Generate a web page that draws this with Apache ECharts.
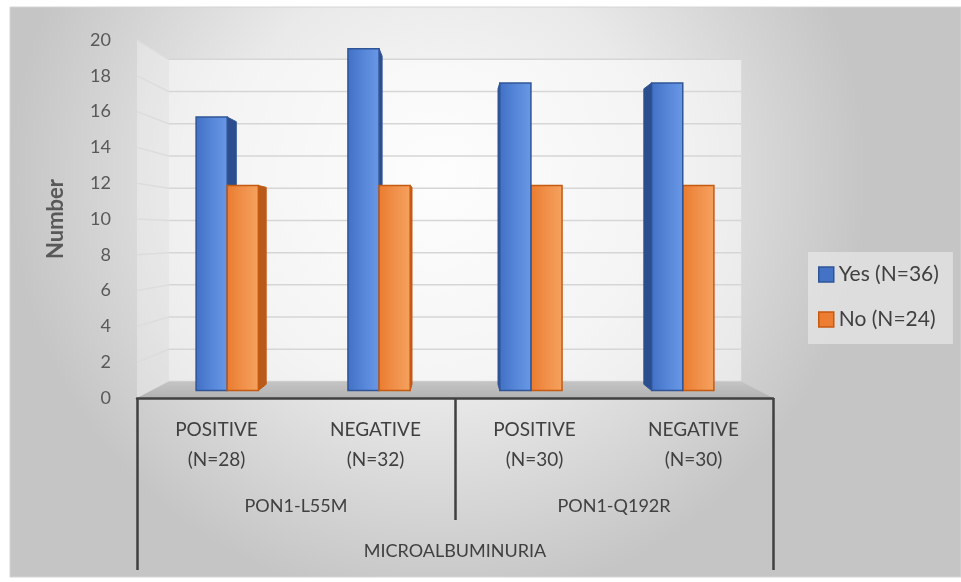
<!DOCTYPE html>
<html>
<head>
<meta charset="utf-8">
<script src="https://cdn.jsdelivr.net/npm/echarts@6/dist/echarts.min.js"></script>
<style>
  html, body { margin: 0; padding: 0; background: #fff; }
  #chart { width: 961px; height: 582px; }
</style>
</head>
<body>
<div id="chart"></div>
<script>
// data
const categories = ['POSITIVE\n(N=28)', 'NEGATIVE\n(N=32)', 'POSITIVE\n(N=30)', 'NEGATIVE\n(N=30)'];
const genes = ['PON1-L55M', 'PON1-Q192R'];
const outcome = ['MICROALBUMINURIA'];
const yesValues = [16, 20, 18, 18];
const noValues = [12, 12, 12, 12];
const yTicks = [0, 2, 4, 6, 8, 10, 12, 14, 16, 18, 20];
const seriesNames = ['Yes (N=36)', 'No (N=24)'];

const FONT = 'Lato';
// depth factors for the fake 3d look
const S_BAR_FRONT = 0.955;
const S_BAR_BACK = 0.917;
const S_WALL = 0.9;

function vanish(cs) {
  return [cs.x + cs.width / 2, cs.y + cs.height * 0.54];
}
function proj(vp, p, s) {
  return [vp[0] + (p[0] - vp[0]) * s, vp[1] + (p[1] - vp[1]) * s];
}

const looks = [
  {
    front: ['#4170c4', '#5686d8', '#6a98e6'],
    side: '#2d4e8e',
    edge: '#2f5597'
  },
  {
    front: ['#ea7b2e', '#f0904a', '#f5a25f'],
    side: '#b85a1a',
    edge: '#c55a11'
  }
];

function makeBar(k) {
  const look = looks[k];
  return function (params, api) {
    const cs = params.coordSys;
    const vp = vanish(cs);
    const cat = api.value(0);
    const base = api.coord([cat, 0]);
    const top = api.coord([cat, api.value(1)]);
    const w = api.size([1, 0])[0] * 0.205;
    const xa = k === 0 ? base[0] - w : base[0];
    const xb = xa + w;
    const pts = (s) => [
      proj(vp, [xa, top[1]], s), proj(vp, [xb, top[1]], s),
      proj(vp, [xb, base[1]], s), proj(vp, [xa, base[1]], s)
    ];
    const f = pts(S_BAR_FRONT);
    const b = pts(S_BAR_BACK);
    const leftHalf = base[0] < vp[0];
    const side = leftHalf ? [f[1], b[1], b[2], f[2]] : [f[0], b[0], b[3], f[3]];
    let z2 = leftHalf ? (k === 0 ? 1 : 3) : (k === 0 ? 3 : 1);
    return {
      type: 'group',
      children: [
        {
          type: 'polygon', z2: z2,
          shape: { points: side },
          style: { fill: look.side, stroke: look.edge, lineWidth: 1 }
        },
        {
          type: 'polygon', z2: z2 + 1,
          shape: { points: f },
          style: {
            fill: {
              type: 'linear', x: 0, y: 0, x2: 1, y2: 0,
              colorStops: [
                { offset: 0, color: look.front[0] },
                { offset: 0.5, color: look.front[1] },
                { offset: 1, color: look.front[2] }
              ]
            },
            stroke: look.edge, lineWidth: 1.5
          }
        }
      ]
    };
  };
}

function renderWall(params, api) {
  const cs = params.coordSys;
  const vp = vanish(cs);
  const x0 = cs.x, x1 = cs.x + cs.width;
  const yb = cs.y + cs.height, yt = cs.y;
  const y = api.coord([0, api.value(1)])[1];
  const children = [];
  if (params.dataIndex === 0) {
    children.push({
      type: 'polygon', z2: 0,
      shape: { points: [proj(vp, [x0, yt], S_WALL), proj(vp, [x1, yt], S_WALL), proj(vp, [x1, yb], S_WALL), proj(vp, [x0, yb], S_WALL)] },
      style: { fill: 'rgba(255,255,255,0.5)' }
    });
    children.push({
      type: 'polygon', z2: 0,
      shape: { points: [[x0, yt], proj(vp, [x0, yt], S_WALL), proj(vp, [x0, yb], S_WALL), [x0, yb]] },
      style: { fill: 'rgba(255,255,255,0.3)' }
    });
    children.push({
      type: 'polygon', z2: 2,
      shape: { points: [[x0, yb], [x1, yb], proj(vp, [x1, yb], S_WALL), proj(vp, [x0, yb], S_WALL)] },
      style: {
        fill: {
          type: 'linear', x: 0, y: 0, x2: 0, y2: 1,
          colorStops: [{ offset: 0, color: '#c4c4c4' }, { offset: 1, color: '#b2b2b2' }]
        }
      }
    });
  }
  children.push({
    type: 'line', z2: 1,
    shape: { x1: proj(vp, [x0, y], S_WALL)[0], y1: proj(vp, [x0, y], S_WALL)[1], x2: proj(vp, [x1, y], S_WALL)[0], y2: proj(vp, [x1, y], S_WALL)[1] },
    style: { stroke: '#d6d6d6', lineWidth: 1.5 }
  });
  children.push({
    type: 'line', z2: 1,
    shape: { x1: x0, y1: y, x2: proj(vp, [x0, y], S_WALL)[0], y2: proj(vp, [x0, y], S_WALL)[1] },
    style: { stroke: '#dcdcdc', lineWidth: 1.5 }
  });
  return { type: 'group', children: children };
}

const chart = echarts.init(document.getElementById('chart'));
chart.setOption({
  animation: false,
  textStyle: { fontFamily: FONT },
  graphic: [{
    type: 'rect', z: -10,
    shape: { x: 10, y: 7, width: 951, height: 570 },
    style: {
      fill: {
        type: 'radial', x: 0.45, y: 0.3, r: 0.75,
        colorStops: [{ offset: 0, color: '#fbfbfb' }, { offset: 0.5, color: '#e9e9e9' }, { offset: 1, color: '#c5c5c5' }]
      },
      stroke: '#d4d4d4', lineWidth: 1
    }
  }],
  grid: { left: 137, right: 188, top: 40, bottom: 184 },
  legend: {
    orient: 'vertical', left: 808, top: 252,
    padding: [12, 14, 14, 10], itemGap: 24,
    itemWidth: 15, itemHeight: 15,
    backgroundColor: 'rgba(236,236,236,0.6)',
    textStyle: { fontSize: 21, color: '#404040', fontFamily: FONT },
    data: [
      { name: seriesNames[0], icon: 'rect', itemStyle: { borderColor: '#2f5597', borderWidth: 1.5 } },
      { name: seriesNames[1], icon: 'rect', itemStyle: { borderColor: '#c55a11', borderWidth: 1.5 } }
    ]
  },
  xAxis: [
    {
      type: 'category', data: categories, position: 'bottom', z: 5,
      axisLine: { lineStyle: { color: '#404040', width: 2.5 } },
      axisTick: { show: false },
      axisLabel: { interval: 0, margin: 17, fontSize: 19, lineHeight: 30, color: '#404040', fontFamily: FONT }
    },
    {
      type: 'category', data: genes, position: 'bottom', z: 5,
      axisLine: { show: false },
      axisTick: { show: true, interval: 0, length: 122, lineStyle: { color: '#404040', width: 2.5 } },
      axisLabel: { interval: 0, margin: 98, fontSize: 18, lineHeight: 20, color: '#404040', fontFamily: FONT }
    },
    {
      type: 'category', data: outcome, position: 'bottom', z: 5,
      axisLine: { show: false },
      axisTick: { show: true, interval: 0, length: 172, lineStyle: { color: '#404040', width: 2.5 } },
      axisLabel: { interval: 0, margin: 143, fontSize: 18, lineHeight: 20, color: '#404040', fontFamily: FONT }
    }
  ],
  yAxis: {
    type: 'value', min: 0, max: 20, interval: 2,
    axisLine: { show: false }, axisTick: { show: false }, splitLine: { show: false },
    axisLabel: { margin: 26, fontSize: 18, color: '#595959', fontFamily: FONT },
    name: 'Number', nameLocation: 'middle', nameGap: 70,
    nameTextStyle: { fontSize: 22, fontWeight: 'bold', color: '#595959', fontFamily: FONT }
  },
  series: [
    {
      type: 'custom', name: 'wall', z: 1, silent: true,
      renderItem: renderWall,
      data: yTicks.map(v => [0, v])
    },
    {
      type: 'custom', name: seriesNames[0], z: 3,
      itemStyle: { color: '#4472c4' },
      renderItem: makeBar(0),
      data: yesValues.map((v, i) => [i, v])
    },
    {
      type: 'custom', name: seriesNames[1], z: 3,
      itemStyle: { color: '#ed7d31' },
      renderItem: makeBar(1),
      data: noValues.map((v, i) => [i, v])
    }
  ]
});
</script>
</body>
</html>
